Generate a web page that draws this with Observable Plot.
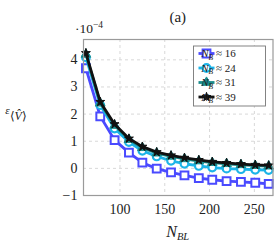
<!DOCTYPE html>
<html>
<head>
<meta charset="utf-8">
<script src="https://cdn.jsdelivr.net/npm/d3@7"></script>
<script src="https://cdn.jsdelivr.net/npm/@observablehq/plot@0.6"></script>
<style>
  html, body { margin: 0; padding: 0; background: #fff; }
  svg { display: block; }
  #chart svg, #chart svg text, #chart svg tspan { font-family: "Liberation Serif", serif !important; }
</style>
</head>
<body>
<div id="chart"></div>
<script>
const nbl = [62, 78, 94, 110, 125, 141, 157, 172, 188, 203, 219, 235, 251, 266];
const seriesNames = ["16", "24", "31", "39"];
const v16 = [3.69, 1.92, 1.04, 0.58, 0.21, -0.01, -0.15, -0.26, -0.36, -0.42, -0.47, -0.50, -0.53, -0.57];
const v24 = [4.09, 2.33, 1.47, 0.97, 0.65, 0.44, 0.28, 0.17, 0.09, 0.03, -0.01, -0.03, -0.05, -0.06];
const v31 = [4.20, 2.40, 1.58, 1.06, 0.76, 0.56, 0.44, 0.35, 0.27, 0.21, 0.17, 0.13, 0.10, 0.08];
const v39 = [4.25, 2.45, 1.63, 1.10, 0.80, 0.60, 0.48, 0.39, 0.31, 0.24, 0.20, 0.16, 0.13, 0.11];
const yTicks = [-1, 0, 1, 2, 3, 4];
const xTicks = [100, 150, 200, 250];

const styles = [
  {name: "16", values: v16, color: "#4a4aff", symbol: "square", fill: "white", r: 4.4, sw: 2},
  {name: "24", values: v24, color: "#1cb4e8", symbol: "circle", fill: "white", r: 3.8, sw: 2.2},
  {name: "31", values: v31, color: "#1a8c8c", symbol: "triangle", fill: "#1a8c8c", r: 3.6, sw: 1},
  {name: "39", values: v39, color: "#111111", symbol: "star", fill: "#111111", r: 2.8, sw: 1}
];

const data = styles.flatMap(s => nbl.map((x, i) => ({x, y: s.values[i], s: s.name})));

const font = "Liberation Serif, serif";

const marks = [
  Plot.gridX(xTicks, {stroke: "#d8d8d8", strokeOpacity: 1, strokeDasharray: "3,3"}),
  Plot.gridY(yTicks, {stroke: "#d8d8d8", strokeOpacity: 1, strokeDasharray: "3,3"}),
  Plot.axisX(xTicks, {tickSize: 0, tickPadding: 9, fontSize: 14, label: null}),
  Plot.axisY(yTicks, {tickSize: 0, tickPadding: 6, fontSize: 14, label: null, tickFormat: d => d < 0 ? "\u2212" + Math.abs(d) : String(d)})
];
for (const s of styles) {
  const d = data.filter(p => p.s === s.name);
  marks.push(Plot.line(d, {x: "x", y: "y", stroke: s.color, strokeWidth: 2.8}));
  marks.push(Plot.dot(d, {x: "x", y: "y", symbol: s.symbol, r: s.r, fill: s.fill, stroke: s.color, strokeWidth: s.sw}));
}
marks.push(Plot.frame({stroke: "#9a9a9a", strokeWidth: 1.2}));

const chart = Plot.plot({
  width: 274,
  height: 247,
  marginLeft: 83,
  marginRight: 1.5,
  marginTop: 39,
  marginBottom: 52,
  style: {fontFamily: font, color: "#222", background: "white"},
  x: {domain: [59.3, 270.8]},
  y: {domain: [-1, 4.75]},
  marks
});
document.getElementById("chart").append(chart);

const svg = d3.select(chart);
const xs = chart.scale("x"), ys = chart.scale("y");
const pLeft = xs.range[0], pRight = xs.range[1];
const pTop = ys.range[1], pBottom = ys.range[0];
const cx = (pLeft + pRight) / 2;

// title
svg.append("text").attr("x", cx).attr("y", 22).attr("text-anchor", "middle")
  .attr("font-size", 15).attr("fill", "#222").text("(a)");

// exponent
const ex = svg.append("text").attr("x", pLeft + 6).attr("y", pTop - 6)
  .attr("font-size", 13.5).attr("fill", "#222");
ex.append("tspan").text("\u00b710");
ex.append("tspan").attr("dy", -5).attr("font-size", 9.5).text("\u22124");

// y label
const yl = svg.append("text").attr("x", 16).attr("y", 114)
  .attr("font-size", 11).attr("fill", "#222").attr("font-style", "italic");
yl.append("tspan").text("\u03b5");
yl.append("tspan").attr("dy", 6).attr("font-size", 12).attr("font-style", "normal").text("\u27e8");
yl.append("tspan").attr("font-size", 12).text("V\u0302");
yl.append("tspan").attr("font-size", 12).attr("font-style", "normal").text("\u27e9");

// x label
const xl = svg.append("text").attr("x", cx).attr("y", 237).attr("text-anchor", "middle")
  .attr("font-size", 16).attr("fill", "#222").attr("font-style", "italic");
xl.append("tspan").text("N");
xl.append("tspan").attr("dy", 3).attr("font-size", 10.5).text("BL");

// legend
const lg = svg.append("g").attr("transform", `translate(${pRight - 79},${pTop + 7})`);
lg.append("rect").attr("width", 72).attr("height", 60).attr("fill", "white").attr("stroke", "#777").attr("stroke-width", 0.9);
styles.forEach((s, i) => {
  const y = 7.5 + i * 14.5;
  lg.append("line").attr("x1", 5).attr("x2", 21).attr("y1", y).attr("y2", y)
    .attr("stroke", s.color).attr("stroke-width", 2.8);
  const sym = {square: d3.symbolSquare, circle: d3.symbolCircle, triangle: d3.symbolTriangle, star: d3.symbolStar}[s.symbol];
  lg.append("path").attr("transform", `translate(13,${y})`)
    .attr("d", d3.symbol(sym, Math.PI * s.r * s.r)())
    .attr("fill", s.fill).attr("stroke", s.color).attr("stroke-width", s.sw);
  const t = lg.append("text").attr("x", 25).attr("y", y + 3.5)
    .attr("font-size", 11).attr("fill", "#222");
  t.append("tspan").attr("font-style", "italic").text("N");
  t.append("tspan").attr("font-style", "italic").attr("dy", 2.5).attr("font-size", 7.5).text("B");
  t.append("tspan").attr("dy", -2.5).text(" \u2248 " + s.name);
});
</script>
</body>
</html>
